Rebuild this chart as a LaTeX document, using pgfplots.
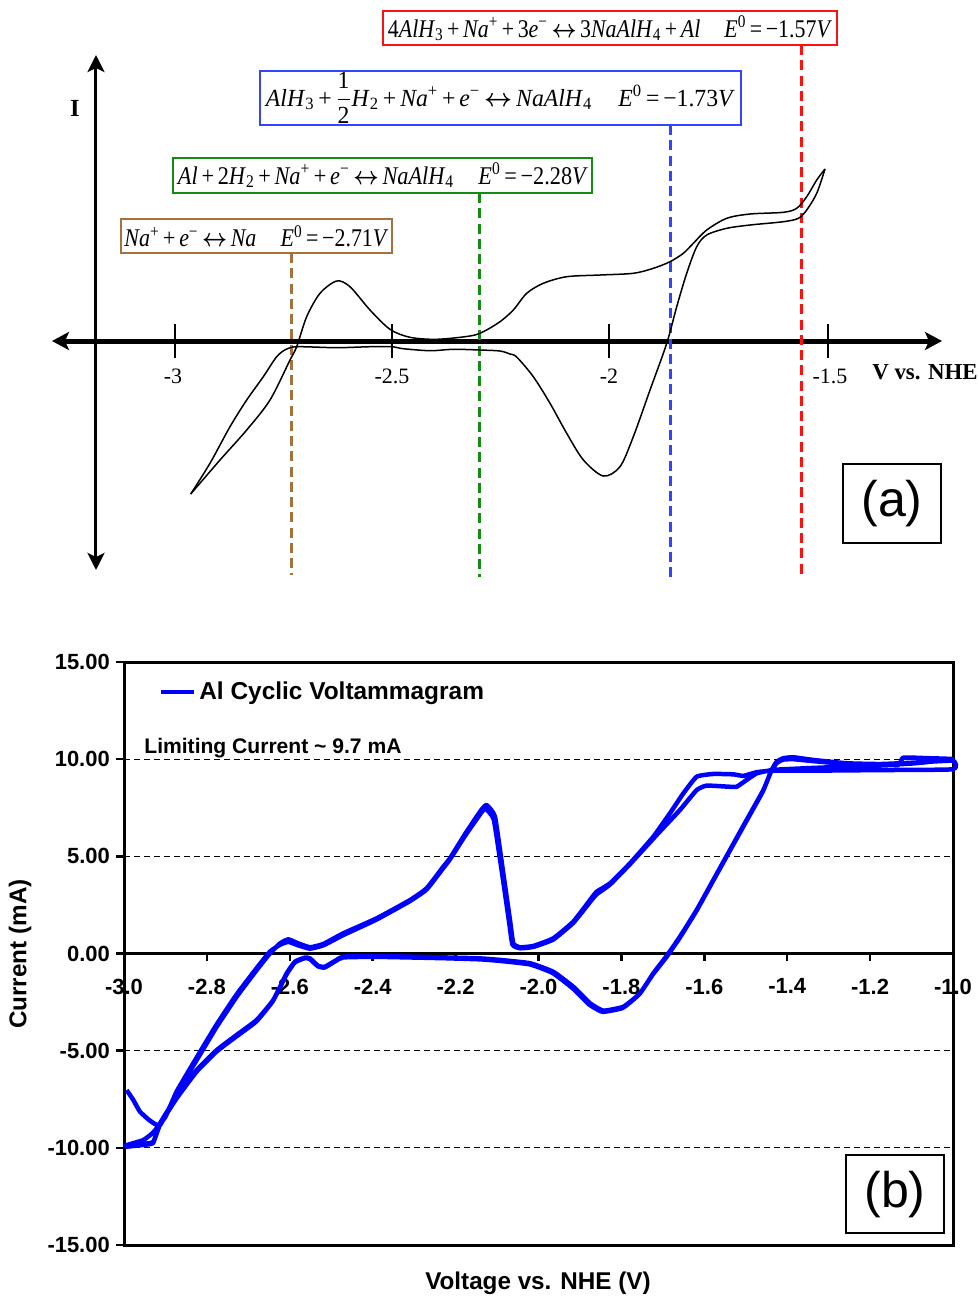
\documentclass[border=0pt]{standalone}
\usepackage{fontspec}
\setmainfont{Liberation Serif}
\newfontfamily\arial{Liberation Sans}
\usepackage{amsmath}
\usepackage{graphicx}
\usepackage{pgfplots}
\pgfplotsset{compat=1.18}
\usetikzlibrary{arrows.meta}

\definecolor{eqred}{HTML}{FF1010}
\definecolor{eqblue}{HTML}{3344FF}
\definecolor{eqgreen}{HTML}{148C14}
\definecolor{eqbrown}{HTML}{A8703C}

\newcommand{\iv}[1]{\textit{#1}}
\newcommand{\sub}[1]{\textsubscript{#1}}
\newcommand{\spp}[1]{\textsuperscript{#1}}
\newcommand{\arr}{\,$\boldsymbol{\leftrightarrow}$\,}

\begin{document}
\begin{tikzpicture}
% whole picture: 979 x 1297 px, 1 px = 0.2 mm
\useasboundingbox (0mm,0mm) rectangle (195.8mm,-259.4mm);
\begin{scope}[x=0.2mm,y=-0.2mm]
  % schematic axes of panel (a)
  \draw[line width=1mm, {Stealth[length=3.4mm,width=3.6mm,inset=0.8mm]}-{Stealth[length=3.4mm,width=3.6mm,inset=0.8mm]}] (52,341) -- (942,341);
  \draw[line width=0.6mm, {Stealth[length=3.4mm,width=3.4mm,inset=0.8mm]}-{Stealth[length=3.4mm,width=3.4mm,inset=0.8mm]}] (96,55) -- (96,570);
  \foreach \x in {175,392,609,828} \draw[line width=0.4mm] (\x,324) -- (\x,358);
  \node[font=\fontsize{12.5}{14}\selectfont] at (173,376) {-3};
  \node[font=\fontsize{12.5}{14}\selectfont] at (392,376) {-2.5};
  \node[font=\fontsize{12.5}{14}\selectfont] at (609,376) {-2};
  \node[font=\fontsize{12.5}{14}\selectfont] at (830,376) {-1.5};
  \node[font=\bfseries\fontsize{13}{15}\selectfont] at (925,372) {V vs. NHE};
  \node[font=\bfseries\fontsize{14}{16}\selectfont] at (75,108) {I};
\end{scope}

% ---------- panel (a) ----------
\begin{axis}[at={(0mm,-120mm)}, anchor=south west, scale only axis,
    width=195.8mm, height=120mm,
    xmin=-3.4032, xmax=-1.1475, ymin=-259, ymax=341,
    hide axis, clip=false]
  \addplot[eqbrown, line width=0.6mm, dash pattern=on 2mm off 1.05mm] coordinates {(-2.7327,88) (-2.7327,-234)};
  \addplot[eqgreen, line width=0.6mm, dash pattern=on 2mm off 1.05mm] coordinates {(-2.2995,148) (-2.2995,-236)};
  \addplot[eqblue, line width=0.6mm, dash pattern=on 2mm off 1.05mm] coordinates {(-1.8594,216) (-1.8594,-236)};
  \addplot[eqred, line width=0.6mm, dash pattern=on 2mm off 1.05mm] coordinates {(-1.5576,296) (-1.5576,-236)};
  % lower branch
  \addplot[black, line width=0.3mm, smooth] coordinates {
    (-2.9638,-153) (-2.9194,-122.3) (-2.8733,-85.7) (-2.8348,-59) (-2.7965,-35.7)
    (-2.7657,-15.7) (-2.7426,-8) (-2.7159,-5.7) (-2.6275,-6.7) (-2.5507,-5.7)
    (-2.5007,-5.7) (-2.474,-7.7) (-2.4124,-9.7) (-2.3587,-8.3) (-2.2972,-9)
    (-2.2512,-10) (-2.2281,-13) (-2.2127,-16) (-2.1744,-35.7) (-2.1359,-62.3)
    (-2.0975,-92.3) (-2.059,-119) (-2.0131,-135) (-1.9747,-125.7) (-1.944,-95.7)
    (-1.9055,-49) (-1.867,-2.3) (-1.844,34.3) (-1.821,67.7) (-1.7979,94.3)
    (-1.7749,106) (-1.7288,112.7) (-1.6751,116) (-1.5984,119.3) (-1.5637,122.7)
    (-1.5445,131) (-1.5214,147.7) (-1.5023,172)};
  % upper branch
  \addplot[black, line width=0.3mm, smooth] coordinates {
    (-2.9638,-153) (-2.8963,-119) (-2.8348,-89) (-2.7811,-59) (-2.735,-19)
    (-2.7196,-5.7) (-2.6966,24.3) (-2.6659,47.7) (-2.6275,60) (-2.5968,54.3)
    (-2.5507,31) (-2.5046,11.7) (-2.4585,3.7) (-2.397,1.7) (-2.3203,5)
    (-2.2896,9.3) (-2.2512,19.3) (-2.2205,31) (-2.1896,47.7) (-2.1514,57.7)
    (-2.0975,64.3) (-2.0207,66) (-1.944,67.7) (-1.8979,72.7) (-1.8594,79.3)
    (-1.8288,87.7) (-1.8057,97.7) (-1.7749,111) (-1.7288,122.7) (-1.6751,127)
    (-1.5984,128.7) (-1.5676,132.7) (-1.5445,144.3) (-1.5214,161) (-1.5023,172)};
\end{axis}

% ---------- panel (b): zero line with x ticks ----------
\begin{axis}[at={(24.8mm,-249mm)}, anchor=south west, scale only axis,
    width=165.8mm, height=116.6mm,
    xmin=-3, xmax=-1, ymin=-15, ymax=15,
    axis x line=middle, axis y line=none,
    x axis line style={-, line width=0.6mm},
    every inner x axis line/.append style={-},
    xtick={-3,-2.8,-2.6,-2.4,-2.2,-2,-1.8,-1.6,-1.4,-1.2,-1},
    xtick align=outside, major tick length=1.4mm,
    xtick style={line width=0.5mm, black},
    xticklabel style={font=\arial\bfseries\fontsize{12.5}{14}\selectfont, yshift=-2.4mm,
      /pgf/number format/.cd, fixed, fixed zerofill, precision=1, assume math mode=true}]
\end{axis}

% ---------- panel (b): frame, grid and data ----------
\begin{axis}[at={(24.8mm,-249mm)}, anchor=south west, scale only axis,
    width=165.8mm, height=116.6mm,
    xmin=-3, xmax=-1, ymin=-15, ymax=15,
    xtick=\empty, ytick={-15,-10,-5,0,5,10,15}, ytick pos=left,
    ytick align=outside, major tick length=1.6mm,
    ytick style={line width=0.5mm, black},
    axis line style={line width=0.6mm},
    ymajorgrids, grid style={black, line width=0.25mm, dash pattern=on 1.2mm off 0.8mm},
    yticklabel style={font=\arial\bfseries\fontsize{12.5}{14}\selectfont,
      /pgf/number format/.cd, fixed, fixed zerofill, precision=2, assume math mode=true},
    legend style={at={(0.041,0.9485)}, anchor=west, draw=none, fill=none, inner sep=0pt,
      font=\arial\bfseries\fontsize{13.9}{16}\selectfont},
    legend image code/.code={\draw[#1] (0mm,0mm) -- (6.6mm,0mm);},
    clip=false]
  \addplot[blue, line width=0.9mm, line join=round, smooth, tension=0.25] coordinates {
    % cycle 1: start of scan, forward sweep
    (-2.9935,-7.03) (-2.9775,-7.54) (-2.9614,-8.14) (-2.9373,-8.6) (-2.9131,-8.83)
    (-2.8729,-7.2) (-2.8246,-5.48) (-2.7764,-3.77) (-2.7281,-2.22) (-2.6799,-0.85)
    (-2.6478,0.01) (-2.6236,0.52) (-2.6036,0.73) (-2.5795,0.52) (-2.5513,0.32)
    (-2.5192,0.49) (-2.4709,1.04) (-2.3905,1.81) (-2.31,2.75) (-2.2697,3.36)
    (-2.2297,4.47) (-2.2135,4.9) (-2.1759,6.19) (-2.138,7.39) (-2.125,7.64)
    (-2.105,7.04) (-2.085,4.13) (-2.0688,1.72) (-2.0608,0.52) (-2.0446,0.32)
    (-2.0125,0.39) (-1.9643,0.78) (-1.916,1.64) (-1.8758,2.75) (-1.8597,3.18)
    (-1.8275,3.61) (-1.7793,4.64) (-1.723,6.01) (-1.6828,7.22) (-1.6506,8.24)
    (-1.6184,9.1) (-1.5782,9.24) (-1.53,9.22) (-1.5059,9.14) (-1.4737,9.33)
    (-1.4334,9.41) (-1.3369,9.41) (-1.1761,9.44) (-1.0,9.48)
    % cycle 1: reverse sweep
    (-1.0,9.92) (-1.0965,9.82) (-1.1761,9.75) (-1.2565,9.79) (-1.3369,9.96)
    (-1.3852,10.1) (-1.4094,10.05) (-1.4254,9.87) (-1.4375,9.44) (-1.4576,8.41)
    (-1.4979,6.87) (-1.538,5.33) (-1.5783,3.78) (-1.6184,2.24) (-1.6586,0.87)
    (-1.69,-0.1) (-1.723,-1.02) (-1.7551,-2.05) (-1.7954,-2.74) (-1.8437,-2.94)
    (-1.8758,-2.56) (-1.916,-1.71) (-1.9643,-0.94) (-2.0205,-0.5) (-2.0929,-0.33)
    (-2.1411,-0.25) (-2.2297,-0.2) (-2.3905,-0.13) (-2.4709,-0.16) (-2.487,-0.33)
    (-2.5151,-0.68) (-2.5312,-0.64) (-2.5513,-0.25) (-2.5633,-0.21) (-2.5875,-0.42)
    (-2.6075,-1.02) (-2.6398,-2.39) (-2.6799,-3.42) (-2.7281,-4.19) (-2.7764,-4.97)
    (-2.8246,-6.0) (-2.8729,-7.37) (-2.9131,-8.74) (-2.9293,-9.69) (-2.9534,-9.8)
    (-2.9976,-9.89)
    % cycle 2: forward sweep
    (-2.9534,-9.6) (-2.9293,-9.2) (-2.9,-8.4) (-2.8729,-7.1) (-2.8246,-5.35)
    (-2.7764,-3.65) (-2.7281,-2.1) (-2.6799,-0.75) (-2.6478,0.1) (-2.6236,0.45)
    (-2.6036,0.6) (-2.5795,0.42) (-2.5513,0.25) (-2.5192,0.42) (-2.4709,0.95)
    (-2.3905,1.75) (-2.31,2.7) (-2.2697,3.3) (-2.2297,4.4) (-2.2135,4.85)
    (-2.1759,6.1) (-2.138,7.25) (-2.128,7.45) (-2.108,6.9) (-2.087,4.0)
    (-2.0708,1.6) (-2.0628,0.45) (-2.0446,0.27) (-2.0125,0.34) (-1.9643,0.72)
    (-1.916,1.58) (-1.8758,2.65) (-1.8597,3.05) (-1.8275,3.55) (-1.7793,4.6)
    (-1.715,6.1) (-1.6586,7.39) (-1.6184,8.41) (-1.5943,8.64) (-1.538,8.58)
    (-1.522,8.58) (-1.4979,8.93) (-1.4737,9.27) (-1.4334,9.45) (-1.3369,9.55)
    (-1.25,9.62) (-1.16,9.7) (-1.13,9.72) (-1.12,10.08) (-1.06,10.05) (-1.0,10.0)
    % cycle 2: reverse sweep
    (-1.0965,9.78) (-1.1761,9.7) (-1.2565,9.75) (-1.3369,9.9) (-1.3852,10.0)
    (-1.4094,9.98) (-1.4254,9.8) (-1.4385,9.4) (-1.4586,8.35) (-1.4989,6.8)
    (-1.539,5.27) (-1.5793,3.72) (-1.6194,2.18) (-1.6596,0.8) (-1.692,-0.2)
    (-1.725,-1.1) (-1.757,-2.1) (-1.797,-2.8) (-1.8457,-3.0) (-1.878,-2.62)
    (-1.918,-1.78) (-1.966,-1.0) (-2.0205,-0.56) (-2.0929,-0.38) (-2.1411,-0.3)
    (-2.2297,-0.24) (-2.3905,-0.17) (-2.4709,-0.2) (-2.489,-0.38) (-2.516,-0.72)
    (-2.532,-0.66) (-2.552,-0.28) (-2.564,-0.24) (-2.588,-0.46) (-2.608,-1.08)
    (-2.641,-2.45) (-2.681,-3.5) (-2.729,-4.27) (-2.777,-5.05) (-2.825,-6.08)
    (-2.873,-7.45) (-2.913,-8.8) (-2.93,-9.75) (-2.954,-9.85) (-2.998,-9.95)};
  \addlegendentry{Al Cyclic Voltammagram}
  \node[anchor=base west, font=\arial\bfseries\fontsize{12}{14}\selectfont, inner sep=0pt]
    at (axis cs:-2.9517,10.27) {Limiting Current \textasciitilde\ 9.7 mA};
\end{axis}

\begin{scope}[x=0.2mm,y=-0.2mm]
  % equation boxes
  \draw[eqred, line width=0.4mm, fill=white] (383,11) rectangle (837,45);
  \node[inner sep=0pt, font=\fontsize{14.5}{16}\selectfont] at (610,28.5) {\resizebox{88.8mm}{\height}{4\iv{AlH}\sub{3}\,+\,\iv{Na}\spp{+}\,+\,3\iv{e}\spp{−}\arr3\iv{NaAlH}\sub{4}\,+\,\iv{Al}\hspace{1.1em}\iv{E}\spp{0}\,=\,−1.57\iv{V}}};
  \draw[eqblue, line width=0.4mm, fill=white] (260,71) rectangle (741,125);
  \node[inner sep=0pt, font=\fontsize{14}{16}\selectfont] at (500.5,98) {\resizebox{93.8mm}{\height}{\iv{AlH}\sub{3}\,+\,$\dfrac{\text{1}}{\text{2}}$\iv{H}\sub{2}\,+\,\iv{Na}\spp{+}\,+\,\iv{e}\spp{−}\arr\iv{NaAlH}\sub{4}\hspace{1.1em}\iv{E}\spp{0}\,=\,−1.73\iv{V}}};
  \draw[eqgreen, line width=0.4mm, fill=white] (173,158) rectangle (592,193);
  \node[inner sep=0pt, font=\fontsize{14.5}{16}\selectfont] at (383,175.5) {\resizebox{82mm}{\height}{\iv{Al}\,+\,2\iv{H}\sub{2}\,+\,\iv{Na}\spp{+}\,+\,\iv{e}\spp{−}\arr\iv{NaAlH}\sub{4}\hspace{1.1em}\iv{E}\spp{0}\,=\,−2.28\iv{V}}};
  \draw[eqbrown, line width=0.4mm, fill=white] (121,219) rectangle (392,253);
  \node[inner sep=0pt, font=\fontsize{14.5}{16}\selectfont] at (256.5,236) {\resizebox{52.8mm}{\height}{\iv{Na}\spp{+}\,+\,\iv{e}\spp{−}\arr\iv{Na}\hspace{1.1em}\iv{E}\spp{0}\,=\,−2.71\iv{V}}};
  % panel labels
  \draw[black, line width=0.4mm] (843,464) rectangle (941,543);
  \node[font=\arial\fontsize{28.5}{30}\selectfont] at (892,504) {(a)};
  \draw[black, line width=0.4mm] (846,1155) rectangle (944,1233);
  \node[font=\arial\fontsize{28.5}{30}\selectfont] at (895,1195) {(b)};
  % axis titles of panel (b)
  \node[rotate=90, font=\arial\bfseries\fontsize{13.8}{16}\selectfont] at (20,954) {Current (mA)};
  \node[font=\arial\bfseries\fontsize{13.8}{16}\selectfont] at (538,1283) {Voltage vs. NHE (V)};
\end{scope}
\end{tikzpicture}
\end{document}
